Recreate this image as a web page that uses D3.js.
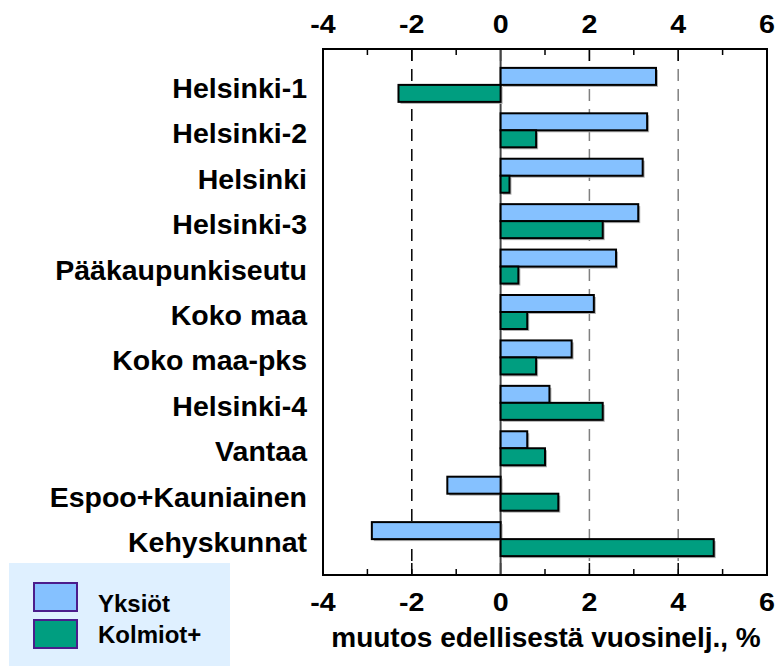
<!DOCTYPE html>
<html><head><meta charset="utf-8">
<script src="https://cdn.jsdelivr.net/npm/d3@7"></script>
<style>body{margin:0;background:#fff;} svg{display:block;font-family:"Liberation Sans",Arial,sans-serif;font-weight:bold;}</style>
</head><body>
<svg id="c" width="777" height="666"></svg>
<script>
const categories = ["Helsinki-1","Helsinki-2","Helsinki","Helsinki-3","Pääkaupunkiseutu","Koko maa","Koko maa-pks","Helsinki-4","Vantaa","Espoo+Kauniainen","Kehyskunnat"];
const seriesNames = ["Yksiöt","Kolmiot+"];
const yksiot = [3.5,3.3,3.2,3.1,2.6,2.1,1.6,1.1,0.6,-1.2,-2.9];
const kolmiot = [-2.3,0.8,0.2,2.3,0.4,0.6,0.8,2.3,1.0,1.3,4.8];
const tickValues = [-4,-2,0,2,4,6];
const axisTitle = "muutos edellisestä vuosinelj., %";
const colors = ["#85c1ff","#009e80"];

const svg = d3.select("#c");
const L=323,R=767,T=49,B=575;
const x = d3.scaleLinear().domain([-4,6]).range([L,R]);
const y = d3.scaleBand().domain(categories).range([T,B]).paddingOuter(0.29).paddingInner(0);
const bh = 17;

// grid lines
[-2,2,4].forEach(v=>{
  svg.append("line").attr("x1",x(v)).attr("x2",x(v)).attr("y1",T).attr("y2",B)
    .attr("stroke", v<0?"#000":"#808080").attr("stroke-width",1.5).attr("stroke-dasharray","12,8");
});

// ticks top and bottom
d3.range(-3,6,1).forEach(v=>{
  const len = v%2===0?12:6;
  svg.append("line").attr("x1",x(v)).attr("x2",x(v)).attr("y1",T).attr("y2",T+len).attr("stroke","#000").attr("stroke-width",1.5);
  svg.append("line").attr("x1",x(v)).attr("x2",x(v)).attr("y1",B).attr("y2",B-len).attr("stroke","#000").attr("stroke-width",1.5);
});

// zero line
svg.append("line").attr("x1",x(0)).attr("x2",x(0)).attr("y1",T).attr("y2",B).attr("stroke","#444").attr("stroke-width",2);

[yksiot,kolmiot].forEach((vals,si)=>{
  const g = svg.append("g");
  vals.forEach((v,i)=>{
    const c = y(categories[i]) + y.bandwidth()/2;
    const y0 = si===0 ? c-bh : c;
    const x0 = Math.min(x(0),x(v)), w = Math.abs(x(v)-x(0));
    g.append("rect").attr("x",x0+2).attr("y",y0+2).attr("width",w).attr("height",bh).attr("fill","#b0b0b0");
    g.append("rect").attr("x",x0).attr("y",y0).attr("width",w).attr("height",bh)
      .attr("fill",colors[si]).attr("stroke","#000").attr("stroke-width",2);
  });
});

// frame
svg.append("rect").attr("x",L).attr("y",T).attr("width",R-L).attr("height",B-T).attr("fill","none").attr("stroke","#000").attr("stroke-width",2);

// tick labels
tickValues.forEach(v=>{
  [33,611].forEach(yy=>{
    svg.append("text").attr("transform",`translate(${x(v)},${yy}) scale(1.1,1)`)
      .attr("text-anchor","middle").attr("font-size",26).text(v);
  });
});

// category labels
categories.forEach(c=>{
  svg.append("text").attr("x",307).attr("y",y(c)+y.bandwidth()/2+13).attr("text-anchor","end").attr("font-size",28.5).text(c);
});

// axis title
svg.append("text").attr("x",546).attr("y",647).attr("text-anchor","middle").attr("font-size",28).text(axisTitle);

// legend
svg.append("rect").attr("x",9).attr("y",563).attr("width",221).attr("height",110).attr("fill","#dff0ff");
seriesNames.forEach((n,i)=>{
  const yy = 583 + i*37;
  svg.append("rect").attr("x",34).attr("y",yy).attr("width",43).attr("height",28).attr("fill",colors[i]).attr("stroke","#4b1c8c").attr("stroke-width",2);
  svg.append("text").attr("x",98).attr("y",[611.5,643][i]).attr("font-size",24).text(n);
});
</script>
</body></html>
